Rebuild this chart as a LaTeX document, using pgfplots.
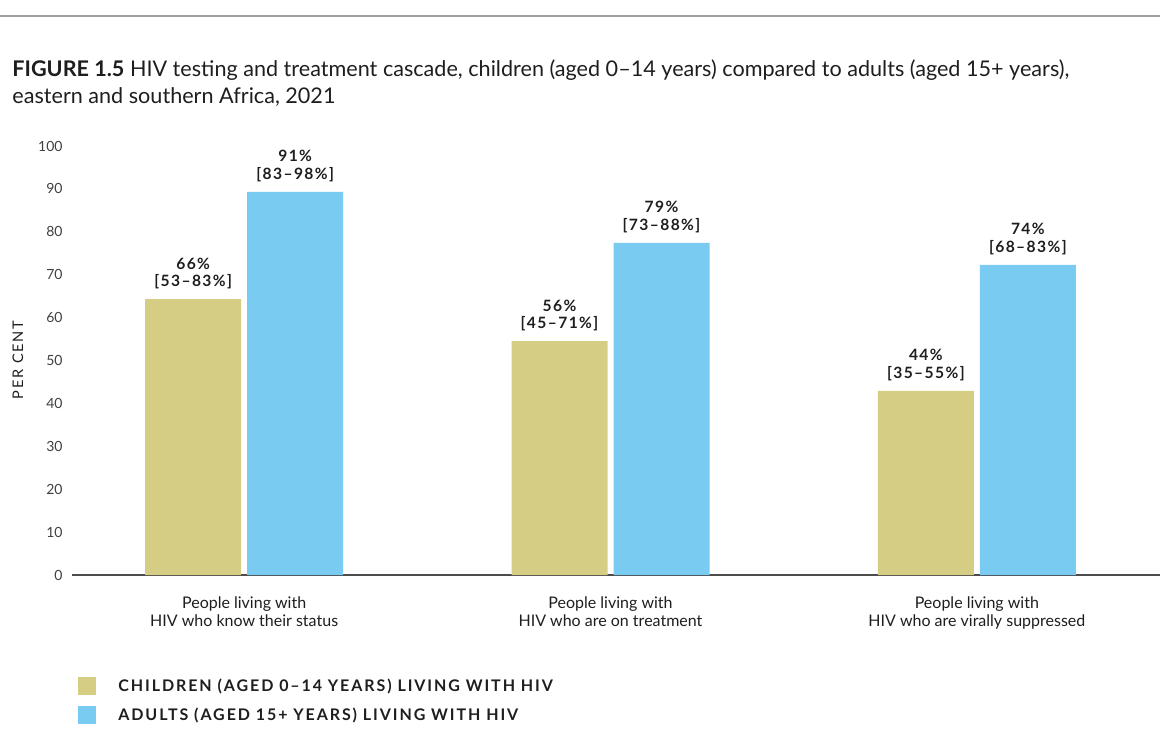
\documentclass[border=0pt]{standalone}
\usepackage{fontspec}
\setmainfont{Lato}
\newfontfamily\track{Lato}[LetterSpace=12]
\newfontfamily\trackv{Lato}[LetterSpace=9]
\usepackage{pgfplots}
\pgfplotsset{compat=1.18}
\usepackage{pgfplotstable}
\definecolor{kh}{RGB}{214,205,133}
\definecolor{sky}{RGB}{122,203,242}
\definecolor{txt}{RGB}{30,30,30}

\pgfplotstableread{
x y v lo hi
0 64.3 66 53 83
1 54.5 56 45 71
2 42.9 44 35 55
}\children
\pgfplotstableread{
x y v lo hi
0 89.3 91 83 98
1 77.4 79 73 88
2 72.3 74 68 83
}\adults

\begin{document}
\begin{tikzpicture}
\useasboundingbox (0,0) rectangle (580pt,369.5pt);
\draw[gray!75, line width=1pt] (0,361.5pt) -- (580pt,361.5pt);
\node[anchor=base west, inner sep=0pt, font=\fontsize{10.8}{12}\selectfont, text=txt] at (6pt,331pt) {\textbf{FIGURE 1.5} HIV testing and treatment cascade, children (aged 0–14 years) compared to adults (aged 15+ years),};
\node[anchor=base west, inner sep=0pt, font=\fontsize{10.8}{12}\selectfont, text=txt] at (6pt,317.5pt) {eastern and southern Africa, 2021};
\node[rotate=90, font=\track\fontsize{7.3}{8}\selectfont, text=txt] at (9pt,189.5pt) {PER CENT};
\begin{axis}[
 at={(36pt,82pt)}, anchor=south west,
 scale only axis, width=544pt, height=214.5pt,
 xmin=-0.47, xmax=2.5, ymin=0, ymax=100,
 axis x line*=bottom, axis y line*=left,
 x axis line style={draw=black!70, line width=0.8pt},
 y axis line style={draw=none},
 tick style={draw=none},
 ytick={0,10,...,100},
 xtick={0,1,2},
 xticklabels={{People living with\\HIV who know their status},{People living with\\HIV who are on treatment},{People living with\\HIV who are virally suppressed}},
 xticklabel style={align=center, font=\fontsize{8}{9}\selectfont, text=txt, yshift=-3pt},
 yticklabel style={font=\fontsize{7}{8}\selectfont, text=black!75, inner sep=0pt, xshift=-4.5pt},
 /pgf/number format/assume math mode=true,
 ybar, bar width=48pt,
 point meta=\thisrow{v},
 visualization depends on={\thisrow{lo}\as\vlo},
 visualization depends on={\thisrow{hi}\as\vhi},
 nodes near coords={\pgfmathprintnumber[fixed,precision=0]{\pgfplotspointmeta}\%\\{}[\pgfmathprintnumber[fixed,precision=0]{\vlo}–\pgfmathprintnumber[fixed,precision=0]{\vhi}\%]},
 every node near coord/.append style={font=\trackv\bfseries\fontsize{7.8}{8.6}\selectfont, align=center, inner sep=0pt, anchor=south, yshift=5pt, text=txt, /pgf/number format/assume math mode=true},
 legend style={at={(0.0055,-0.2378)}, anchor=north west, draw=none, fill=none, inner sep=0pt, row sep=5.5pt, /tikz/column sep=11pt, font=\track\bfseries\fontsize{8}{9}\selectfont, nodes={inner sep=0pt, text=txt}, cells={anchor=west}},
 legend image code/.code={\fill[#1] (0pt,-4.5pt) rectangle (9pt,4.5pt);},
]
\addplot[fill=kh, draw=none, bar shift=-25.5pt] table[x=x,y=y] {\children};
\addlegendentry{CHILDREN (AGED 0–14 YEARS) LIVING WITH HIV}
\addplot[fill=sky, draw=none, bar shift=25.5pt] table[x=x,y=y] {\adults};
\addlegendentry{ADULTS (AGED 15+ YEARS) LIVING WITH HIV}
\end{axis}
\end{tikzpicture}
\end{document}
